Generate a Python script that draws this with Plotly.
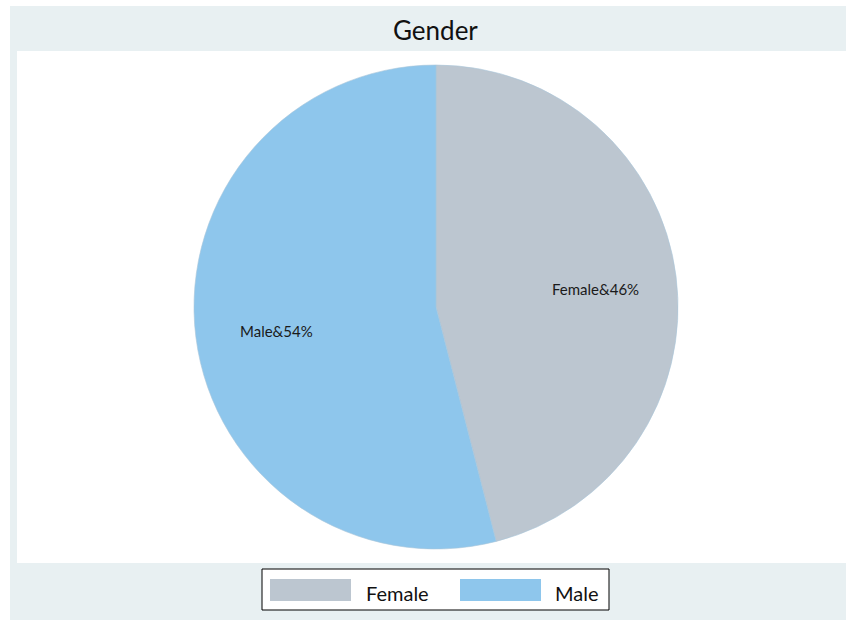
import plotly.graph_objects as go

categories = ["Female", "Male"]
shares = [46, 54]
colors = ["#BCC6D0", "#8EC6EC"]
title_text = "Gender"
slice_label_pos = [(595, 289), (276, 331)]  # text centres in pixels

W, H = 846, 620
FONT = "Lato, 'Open Sans', sans-serif"

def px(x):
    return x / W

def py(y):
    return 1 - y / H

fig = go.Figure()
fig.add_trace(go.Pie(
    labels=categories,
    values=shares,
    sort=False,
    direction="clockwise",
    rotation=0,
    marker=dict(colors=colors, line=dict(color="#A9C6DA", width=0.6)),
    textinfo="none",
    domain=dict(x=[px(194), px(678)], y=[py(549), py(65)]),
    showlegend=False,
    hoverinfo="label+percent",
))

shapes = [
    dict(type="rect", xref="paper", yref="paper", x0=px(10), x1=1, y0=0, y1=py(6),
         fillcolor="#E8F0F2", line=dict(width=0), layer="below"),
    dict(type="rect", xref="paper", yref="paper", x0=px(17), x1=1, y0=py(563), y1=py(51),
         fillcolor="#FFFFFF", line=dict(width=0), layer="below"),
    dict(type="rect", xref="paper", yref="paper", x0=px(262), x1=px(609), y0=py(610), y1=py(569),
         fillcolor="#FFFFFF", line=dict(color="#000000", width=1), layer="below"),
]
annotations = [
    dict(text=title_text, x=px(435), y=py(30), xref="paper", yref="paper",
         showarrow=False, font=dict(family=FONT, size=26, color="#111111"),
         xanchor="center", yanchor="middle"),
]
for cat, val, (lx, ly) in zip(categories, shares, slice_label_pos):
    annotations.append(dict(text=f"{cat}&{val}%", x=px(lx), y=py(ly), xref="paper", yref="paper",
                            showarrow=False, xanchor="center", yanchor="middle",
                            font=dict(family=FONT, size=15, color="#1a1a1a")))

swatch_x = [(270, 351), (460, 541)]
label_x = [364, 553]
for cat, col, (sx0, sx1), lx in zip(categories, colors, swatch_x, label_x):
    shapes.append(dict(type="rect", xref="paper", yref="paper", x0=px(sx0), x1=px(sx1),
                       y0=py(601), y1=py(579), fillcolor=col, line=dict(width=0)))
    annotations.append(dict(text=cat, x=px(lx), y=py(593), xref="paper", yref="paper",
                            showarrow=False, xanchor="left", yanchor="middle",
                            font=dict(family=FONT, size=20, color="#111111")))

fig.update_layout(
    width=W, height=H,
    margin=dict(l=0, r=0, t=0, b=0),
    paper_bgcolor="#FFFFFF",
    plot_bgcolor="#FFFFFF",
    shapes=shapes,
    annotations=annotations,
    showlegend=False,
)
fig.write_html(
    "out.html",
    config={"displayModeBar": False},
    post_script="document.body.style.margin='0';document.body.style.overflow='hidden';",
)
